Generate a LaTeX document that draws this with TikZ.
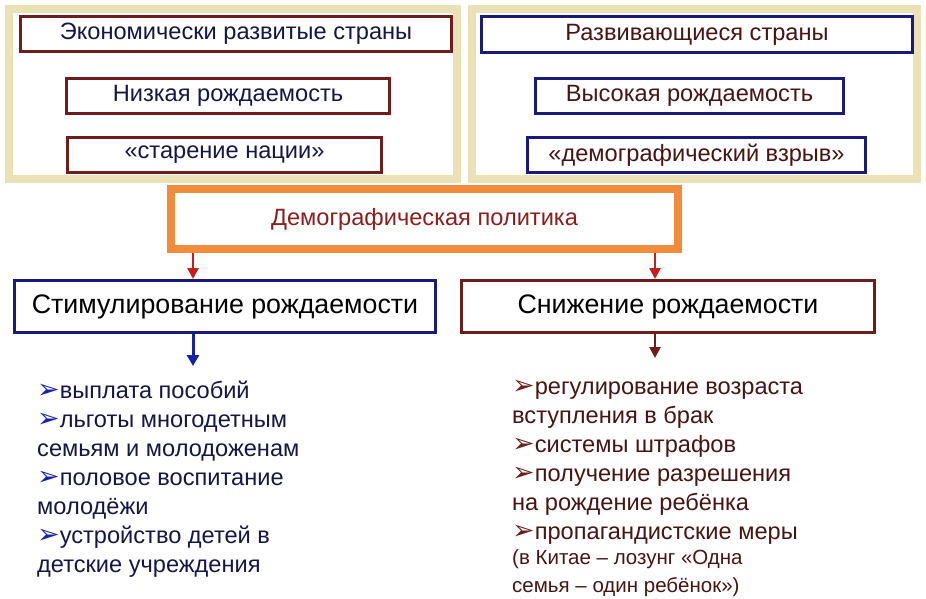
\documentclass[tikz,border=0pt]{standalone}
\usepackage{fontspec}
\setmainfont{Liberation Sans}
\newfontfamily\symfont{DejaVu Sans}
\usetikzlibrary{arrows.meta}

\definecolor{panelbeige}{RGB}{234,226,182}
\definecolor{boxred}{RGB}{110,28,28}
\definecolor{boxblue}{RGB}{26,26,120}
\definecolor{polorange}{RGB}{242,140,60}
\definecolor{arrred}{RGB}{200,30,30}
\definecolor{arrblue}{RGB}{25,35,165}
\definecolor{txtblue}{RGB}{22,22,70}
\definecolor{txtred}{RGB}{70,20,20}
\definecolor{poltxt}{RGB}{140,30,30}

\newcommand{\mybul}[1]{{\color{#1}\symfont\fontsize{27}{29}\selectfont ➢}}

\tikzset{
  panel/.style = {draw=panelbeige, line width=8pt, fill=white},
  redbox/.style = {draw=boxred, line width=3pt, inner sep=0pt, fill=white},
  bluebox/.style = {draw=boxblue, line width=3pt, inner sep=0pt, fill=white},
  toptxt/.style = {font=\fontsize{23.6}{28}\selectfont},
  bigtxt/.style = {font=\fontsize{26.8}{32}\selectfont},
  listtxt/.style = {font=\fontsize{23.6}{29}\selectfont, align=left, inner sep=0pt, anchor=north west},
  redarr/.style = {-{Triangle[width=11pt,length=11pt]}, line width=2.5pt, draw=arrred},
  bluearr/.style = {-{Triangle[width=12pt,length=11pt]}, line width=3pt, draw=arrblue},
  darkarr/.style = {-{Triangle[width=11pt,length=11pt]}, line width=2.5pt, draw=boxred}
}

\begin{document}
\begin{tikzpicture}[x=1pt, y=-1pt]
\useasboundingbox (0,0) rectangle (926,598);

% beige panels
\draw [panel] (9,9) rectangle (457,179);
\draw [panel] (472,9) rectangle (917,179);

% developed countries
\node [redbox, toptxt, text=txtblue, minimum width=431pt, minimum height=35pt] (dev) at (236,34) {Экономически развитые страны};
\node [redbox, toptxt, text=txtblue, minimum width=323pt, minimum height=35pt] (lowbirth) at (228,96) {Низкая рождаемость};
\node [redbox, toptxt, text=txtblue, minimum width=314pt, minimum height=35pt] (aging) at (224.5,155) {«старение нации»};

% developing countries
\node [bluebox, toptxt, text=txtred, minimum width=431pt, minimum height=36pt] (devg) at (697,34.5) {Развивающиеся страны};
\node [bluebox, toptxt, text=txtred, minimum width=308pt, minimum height=35pt] (highbirth) at (689.5,96) {Высокая рождаемость};
\node [bluebox, toptxt, text=txtred, minimum width=338pt, minimum height=35pt] (boom) at (696.5,155) {«демографический взрыв»};

% policy
\node [draw=polorange, line width=8pt, fill=white, inner sep=0pt, minimum width=507pt, minimum height=60pt, toptxt, text=poltxt] (policy) at (424.5,219) {Демографическая политика};

\node [bluebox, bigtxt, minimum width=421pt, minimum height=52pt] (stim) at (225,306.5) {Стимулирование рождаемости};
\node [redbox, bigtxt, minimum width=413pt, minimum height=52pt] (reduce) at (668,306.5) {Снижение рождаемости};

\draw [redarr] (policy.south -| 193,0) -- (stim.north -| 193,0);
\draw [redarr] (policy.south -| 655,0) -- (reduce.north -| 655,0);

\coordinate (stimend) at (193,366);
\coordinate (reduceend) at (655,358);
\draw [bluearr] (stim.south -| stimend) -- (stimend);
\draw [darkarr] (reduce.south -| reduceend) -- (reduceend);

% lists
\node [listtxt, text=txtblue] (stimlist) at (37,381) {\mybul{arrblue}выплата пособий\\
\mybul{arrblue}льготы многодетным\\
семьям и молодоженам\\
\mybul{arrblue}половое воспитание\\
молодёжи\\
\mybul{arrblue}устройство детей в\\
детские учреждения};

\node [listtxt, text=txtred] (reducelist) at (512,380) {\mybul{boxred}регулирование возраста\\
вступления в брак\\
\mybul{boxred}системы штрафов\\
\mybul{boxred}получение разрешения\\
на рождение ребёнка\\
\mybul{boxred}пропагандистские меры\\[-4pt]
{\fontsize{20.5}{28}\selectfont (в Китае – лозунг «Одна}\\[-1.5pt]
{\fontsize{20.5}{28}\selectfont семья – один ребёнок»)}};
\end{tikzpicture}
\end{document}
